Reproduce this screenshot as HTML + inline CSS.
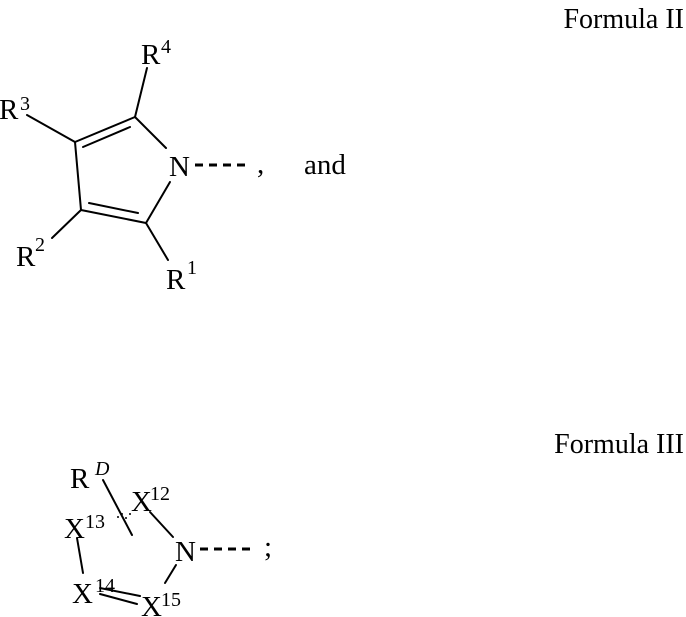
<!DOCTYPE html>
<html><head><meta charset="utf-8"><style>
html,body{margin:0;padding:0;background:#fff;}
svg{display:block;}
text{font-family:"Liberation Serif",serif;fill:#000;}
</style></head><body>
<svg width="686" height="617" viewBox="0 0 686 617" xmlns="http://www.w3.org/2000/svg">
<g font-size="28">
<text x="684" y="28" text-anchor="end">Formula II</text>
<text x="684" y="453" text-anchor="end">Formula III</text>
</g>
<g stroke="#000" stroke-width="2" fill="none" stroke-linecap="round">
<line x1="147" y1="68" x2="135" y2="117"/>
<line x1="135" y1="117" x2="75" y2="142"/>
<line x1="83" y1="147" x2="130" y2="127"/>
<line x1="75" y1="142" x2="27" y2="115"/>
<line x1="75" y1="142" x2="81" y2="210"/>
<line x1="81" y1="210" x2="146" y2="223"/>
<line x1="89" y1="203" x2="138" y2="213"/>
<line x1="81" y1="210" x2="52" y2="238"/>
<line x1="146" y1="223" x2="168" y2="260"/>
<line x1="146" y1="223" x2="170" y2="182"/>
<line x1="135" y1="117" x2="166" y2="148"/>
<line x1="103" y1="480" x2="132" y2="535"/>
<line x1="150" y1="512" x2="173" y2="537"/>
<line x1="77" y1="538" x2="83" y2="573"/>
<line x1="100" y1="588" x2="140" y2="596"/>
<line x1="100" y1="594" x2="137" y2="604"/>
<line x1="176" y1="565" x2="165" y2="583"/>
</g>
<g stroke="#000" stroke-width="3" stroke-dasharray="8,6">
<line x1="195" y1="165" x2="249" y2="165"/>
<line x1="200" y1="549" x2="254" y2="549"/>
</g>
<g fill="#000">
<circle cx="118" cy="517" r="1"/><circle cx="122" cy="514" r="1"/>
<circle cx="126" cy="518" r="1"/><circle cx="130" cy="514" r="1"/>
</g>
<g font-size="29">
<text x="141" y="64">R</text><text x="161" y="53" font-size="20">4</text>
<text x="-1" y="119">R</text><text x="20" y="110" font-size="20">3</text>
<text x="16" y="266">R</text><text x="35" y="251" font-size="20">2</text>
<text x="166" y="289">R</text><text x="187" y="274" font-size="20">1</text>
<text x="169" y="176">N</text>
<text x="257" y="173">,</text>
<text x="304" y="174">and</text>

<text x="70" y="488">R</text><text x="95" y="475" font-size="20" font-style="italic">D</text>
<text x="131" y="511">X</text><text x="150" y="500" font-size="20">12</text>
<text x="175" y="561">N</text>
<text x="264" y="556">;</text>
<text x="64" y="538">X</text><text x="85" y="528" font-size="20">13</text>
<text x="72" y="603">X</text><text x="95" y="592" font-size="20">14</text>
<text x="141" y="616">X</text><text x="161" y="606" font-size="20">15</text>
</g>
</svg>
</body></html>
